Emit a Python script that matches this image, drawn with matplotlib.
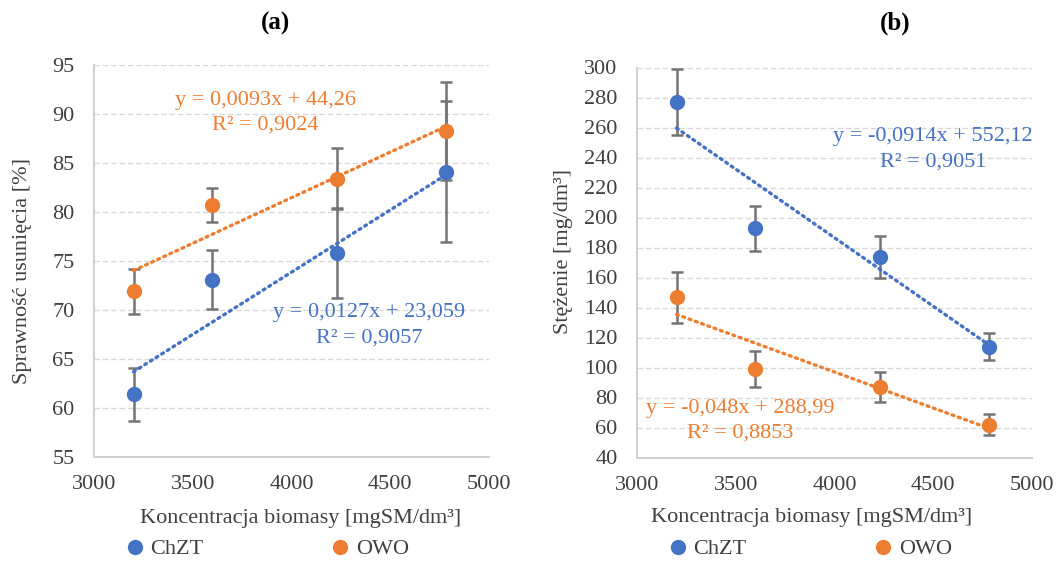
import matplotlib
matplotlib.use('Agg')
import matplotlib.pyplot as plt
from matplotlib.lines import Line2D
import numpy as np

# ---------------- data ----------------
biomass = [3200, 3595, 4230, 4780]

# (a) removal efficiency [%]
eff_chzt = [61.4, 73.1, 75.8, 84.1]
eff_chzt_err = [2.7, 3.0, 4.6, 7.2]
eff_owo = [71.9, 80.7, 83.4, 88.3]
eff_owo_err = [2.3, 1.7, 3.1, 5.0]

# (b) concentration [mg/dm3]
conc_chzt = [277, 193, 174, 114]
conc_chzt_err = [22, 15, 14, 9]
conc_owo = [147, 99, 87, 62]
conc_owo_err = [17, 12, 10, 7]

# trendline coefficients (slope, intercept) as printed on chart
trend_a_chzt = (0.0127, 23.059)
trend_a_owo = (0.0093, 44.26)
trend_b_chzt = (-0.0914, 552.12)
trend_b_owo = (-0.048, 288.99)

eq_a_chzt = ["y = 0,0127x + 23,059", "R² = 0,9057"]
eq_a_owo = ["y = 0,0093x + 44,26", "R² = 0,9024"]
eq_b_chzt = ["y = -0,0914x + 552,12", "R² = 0,9051"]
eq_b_owo = ["y = -0,048x + 288,99", "R² = 0,8853"]

xticks = [3000, 3500, 4000, 4500, 5000]
yticks_a = [55, 60, 65, 70, 75, 80, 85, 90, 95]
yticks_b = list(range(40, 301, 20))

series_names = ["ChZT", "OWO"]
BLUE = "#4472C4"
ORANGE = "#ED7D31"
TXT = "#404040"

plt.rcParams['font.family'] = ['Liberation Serif', 'DejaVu Serif']

W, H = 1058, 564
fig = plt.figure(figsize=(W / 100, H / 100), dpi=100)


def add_axes(l, t, r, b):
    return fig.add_axes([l / W, 1 - b / H, (r - l) / W, (b - t) / H])


axa = add_axes(94, 65, 489, 457)
axb = add_axes(637, 67.5, 1032, 457.5)


def style(ax, ylim, yticks):
    ax.set_xlim(3000, 5000)
    ax.set_xticks(xticks)
    ax.set_ylim(*ylim)
    ax.set_yticks(yticks)
    for s in ['top', 'right']:
        ax.spines[s].set_visible(False)
    for s in ['left', 'bottom']:
        ax.spines[s].set_color('#D0D0D0')
        ax.spines[s].set_linewidth(1.4)
    ax.grid(axis='y', linestyle=(0, (4, 2)), color='#D9D9D9', lw=1)
    ax.set_axisbelow(True)
    ax.tick_params(length=0, labelsize=16, colors=TXT)
    ax.tick_params(axis='y', pad=14)
    ax.tick_params(axis='x', pad=13)


def draw_series(ax, y, err, trend, color):
    ax.errorbar(biomass, y, yerr=err, fmt='none', ecolor='#747474',
                elinewidth=1.8, capsize=4, capthick=1.8, zorder=2)
    xs = np.array([biomass[0], biomass[-1]], dtype=float)
    ax.plot(xs, trend[0] * xs + trend[1], color=color, lw=2.4,
            ls=(0, (0.6, 1.4)), dash_capstyle='round', zorder=3)
    ax.plot(biomass, y, 'o', color=color, ms=10, zorder=4)


def draw_eq(ax, lines, x, y1, y2, color):
    ax.text(x, y1, lines[0], color=color, fontsize=16, ha='center', va='center')
    ax.text(x, y2, lines[1], color=color, fontsize=16, ha='center', va='center')


# ---- panel (a)
style(axa, (55, 95), yticks_a)
draw_series(axa, eff_chzt, eff_chzt_err, trend_a_chzt, BLUE)
draw_series(axa, eff_owo, eff_owo_err, trend_a_owo, ORANGE)
draw_eq(axa, eq_a_owo, 3866, 91.4, 88.9, ORANGE)
draw_eq(axa, eq_a_chzt, 4392, 69.7, 67.15, BLUE)
axa.set_ylabel("Sprawność usunięcia [%]", fontsize=16, color=TXT, va='center')
axa.yaxis.set_label_coords(-0.182, 0.474)
axa.set_xlabel("Koncentracja biomasy [mgSM/dm³]", fontsize=16, color=TXT, va='center')
axa.xaxis.set_label_coords(0.522, -0.156)

# ---- panel (b)
style(axb, (40, 300), yticks_b)
draw_series(axb, conc_chzt, conc_chzt_err, trend_b_chzt, BLUE)
draw_series(axb, conc_owo, conc_owo_err, trend_b_owo, ORANGE)
draw_eq(axb, eq_b_chzt, 4499, 253.7, 237.0, BLUE)
draw_eq(axb, eq_b_owo, 3521, 73.0, 56.3, ORANGE)
axb.set_ylabel("Stężenie [mg/dm³]", fontsize=16, color=TXT, va='center')
axb.yaxis.set_label_coords(-0.187, 0.527)
axb.set_xlabel("Koncentracja biomasy [mgSM/dm³]", fontsize=16, color=TXT, va='center')
axb.xaxis.set_label_coords(0.443, -0.155)

# ---- legends
for ax in (axa, axb):
    handles = [Line2D([], [], ls='none', marker='o', ms=10, color=c) for c in (BLUE, ORANGE)]
    ax.legend(handles, series_names, ncol=2, loc='center left',
              bbox_to_anchor=(0.0869, -0.2347), frameon=False, fontsize=16,
              handlelength=0.6, handletextpad=0.4, columnspacing=5.84,
              borderpad=0, borderaxespad=0, labelcolor=TXT)

# ---- panel titles
fig.text(275 / W, 1 - 23 / H, "(a)", ha='center', va='center', fontsize=18, fontweight='bold')
fig.text(895 / W, 1 - 23 / H, "(b)", ha='center', va='center', fontsize=18, fontweight='bold')

fig.savefig('out.png', dpi=100)
